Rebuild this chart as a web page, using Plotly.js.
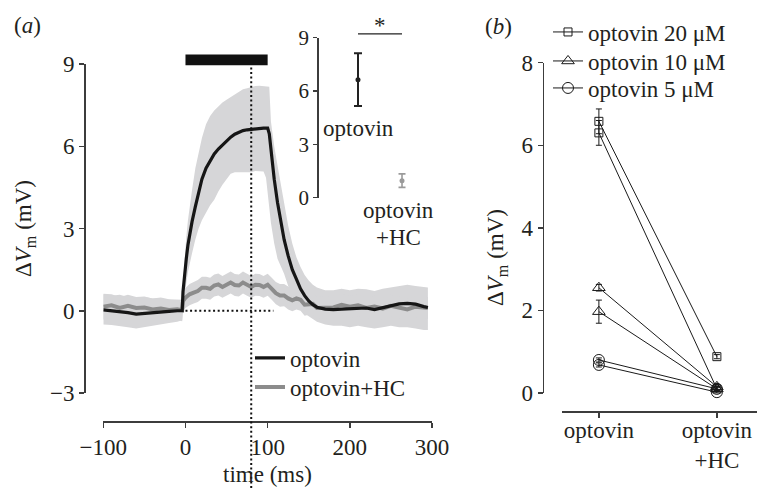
<!DOCTYPE html>
<html>
<head>
<meta charset="utf-8">
<script src="https://cdn.plot.ly/plotly-3.0.1.min.js"></script>
<style>html,body{margin:0;padding:0;background:#fff;}#chart{width:757px;height:488px;}</style>
</head>
<body>
<div id="chart"></div>
<script>
// ---------------- DATA ----------------
// Panel (a): time course (ms) of mean ΔVm (mV) with shaded ±SEM band
const tOpt = [-100,-90,-80,-70,-60,-50,-40,-30,-20,-10,-4,-3,-1,1,3,5,8,12,16,20,25,30,35,40,45,50,55,60,65,70,75,80,85,90,95,98,100,102,104,106,108,112,116,120,125,130,135,140,145,150,155,160,170,180,190,200,210,220,230,240,250,260,270,280,290,295];
const optMean = [0.03,0.0,-0.04,-0.07,-0.12,-0.09,-0.06,-0.04,-0.02,0.0,
  0.0,0.7,1.4,1.9,2.4,2.8,3.25,3.8,4.35,4.8,
  5.2,5.48,5.72,5.9,6.05,6.2,6.33,6.44,6.52,6.57,6.6,6.62,6.63,6.64,6.66,
  6.66,6.66,
  6.45,5.85,5.3,4.8,
  3.95,3.2,2.6,2.0,1.5,1.15,0.8,0.55,0.36,0.22,0.13,
  0.06,0.04,0.06,0.07,0.09,0.1,0.04,0.12,0.2,0.25,0.27,0.24,0.15,
  0.12];
const optUpper = [0.6,0.55,0.58,0.5,0.45,0.5,0.45,0.45,0.4,0.38,
  0.35,1.0,2.0,2.7,3.3,3.8,4.4,5.2,5.8,6.3,
  6.8,7.1,7.3,7.45,7.6,7.7,7.8,7.9,8.0,8.08,8.12,8.16,8.2,8.21,8.2,
  8.2,8.2,
  8.17,6.9,6.4,6.0,
  5.3,4.6,3.9,3.1,2.45,1.95,1.6,1.3,1.1,0.95,0.85,
  0.75,0.75,0.8,0.75,0.8,0.78,0.72,0.8,0.85,0.9,0.95,0.9,0.85,
  0.85];
const optLower = [-0.5,-0.52,-0.55,-0.6,-0.65,-0.6,-0.55,-0.5,-0.45,-0.4,
  -0.35,0.2,0.6,1.0,1.4,1.7,2.1,2.6,3.0,3.3,
  3.6,3.85,4.05,4.35,4.6,4.82,5.0,5.05,5.05,5.05,5.05,5.05,5.1,5.1,5.08,
  4.85,4.3,
  3.75,3.2,2.8,2.45,
  1.9,1.6,1.35,0.9,0.55,0.3,0.1,-0.1,-0.22,-0.3,-0.4,
  -0.5,-0.55,-0.55,-0.6,-0.55,-0.6,-0.65,-0.6,-0.55,-0.6,-0.6,-0.65,-0.7,
  -0.7];

const tHC = [-100,-90,-80,-70,-60,-50,-40,-30,-20,-10,-4,-3,0,5,10,15,20,25,30,35,40,45,50,55,60,65,70,75,80,85,90,95,100,105,110,115,120,125,130,135,140,145,150,155,160,170,180,190,200,210,220,230,240,250,260,270,280,290,295];
const hcMean = [0.15,0.2,0.1,0.18,0.1,0.12,0.05,0.08,0.03,0.05,
  0.02,0.35,0.48,0.6,0.66,0.72,0.84,0.84,0.8,0.92,0.96,0.87,0.95,1.03,0.94,0.92,1.03,0.95,0.87,0.95,0.94,0.87,0.95,
  0.8,0.64,0.56,0.56,0.45,0.38,0.45,0.4,0.22,0.25,0.25,0.1,
  0.1,0.12,0.22,0.15,0.2,0.1,0.15,0.08,0.18,0.12,0.05,0.15,0.12,0.1];
const hcUpper = [0.62,0.6,0.5,0.58,0.5,0.52,0.45,0.48,0.42,0.42,
  0.4,0.75,0.85,0.98,1.05,1.12,1.24,1.24,1.2,1.32,1.36,1.27,1.35,1.43,1.34,1.32,1.43,1.35,1.27,1.35,1.34,1.27,1.35,
  1.2,1.05,0.98,0.98,0.88,0.8,0.86,0.82,0.65,0.68,0.66,0.52,
  0.5,0.55,0.62,0.55,0.6,0.5,0.55,0.48,0.58,0.52,0.45,0.55,0.52,0.5];
const hcLower = [-0.32,-0.25,-0.3,-0.25,-0.32,-0.3,-0.35,-0.32,-0.38,-0.35,
  -0.38,0.0,0.1,0.2,0.26,0.32,0.44,0.44,0.4,0.52,0.56,0.47,0.55,0.63,0.54,0.52,0.63,0.55,0.47,0.55,0.54,0.47,0.55,
  0.4,0.24,0.15,0.16,0.05,-0.02,0.05,0.0,-0.18,-0.15,-0.15,-0.3,
  -0.3,-0.28,-0.18,-0.25,-0.2,-0.3,-0.25,-0.32,-0.22,-0.28,-0.35,-0.25,-0.28,-0.3];

const timeTicks = [-100,0,100,200,300];
const vmTicksA = [-3,0,3,6,9];
const STIM_START = 0, STIM_END = 100;   // light stimulus (ms)
const MARK_T = 80;                      // dotted marker time (ms)
const ZERO_LINE_END = 107;
const BAR_LOW = 8.95, BAR_HIGH = 9.35;

// Inset: mean ± SEM
const insetCats = ['optovin', 'optovin+HC'];
const insetMean = [6.64, 0.96];
const insetErr = [1.48, 0.38];
const insetTicks = [0,3,6,9];
const SIG_Y = 9.22;

// Panel (b): paired cells, optovin vs optovin+HC
const bCats = ['optovin', 'optovin<br>+HC'];
const c20Opt = [6.58, 6.30], c20HC = [0.88, 0.10], c20OptErr = [0.30, 0.30], c20HCErr = [0.05, 0.06];
const c10Opt = [2.55, 1.97], c10HC = [0.15, 0.10], c10OptErr = [0.08, 0.28], c10HCErr = [0.06, 0.06];
const c5Opt  = [0.80, 0.68], c5HC  = [0.10, 0.02], c5OptErr  = [0.05, 0.05], c5HCErr  = [0.04, 0.04];
const bLabels = ['optovin 20 μM', 'optovin 10 μM', 'optovin 5 μM'];
const vmTicksB = [0,2,4,6,8];

// ---------------- STYLE ----------------
const W = 757, H = 488;
const FONT = 'Liberation Serif, "Times New Roman", serif';
const TXT = '#231f20', AX = '#3c3c3c';
const BAND = 'rgb(214,214,216)';
const fx = px => px / W;
const fy = py => 1 - py / H;
function toPaperY(ax, v) {
  const d = ax.domain, r = ax.range;
  return d[0] + (v - r[0]) / (r[1] - r[0]) * (d[1] - d[0]);
}
const tickStyle = {showline:true, linecolor:AX, linewidth:1.5, ticks:'outside', ticklen:5, tickwidth:1.5, tickcolor:AX,
  showgrid:false, zeroline:false, tickfont:{family:FONT, size:23, color:TXT}};

const xaxis = Object.assign({}, tickStyle, {domain:[fx(103.3), fx(432)], range:[-100,300], anchor:'free', position:fy(421),
  tickvals:timeTicks});
const yaxis = Object.assign({}, tickStyle, {domain:[fy(393), fy(64)], range:[-3,9], anchor:'free', position:fx(84),
  tickvals:vmTicksA, title:{text:'Δ<i>V</i><sub>m</sub> (mV)', font:{family:FONT, size:23, color:TXT}, standoff:10}});
const xaxis2 = {domain:[fx(317.3), fx(445)], range:[-0.925,1.977], anchor:'free', position:0, visible:false};
const yaxis2 = Object.assign({}, tickStyle, {domain:[fy(197.7), fy(37.7)], range:[0,9], anchor:'free', position:fx(317.3),
  tickvals:insetTicks, ticklen:4, tickfont:{family:FONT, size:21, color:TXT}});
const xaxis3 = Object.assign({}, tickStyle, {domain:[fx(562.3), 1], range:[-0.31,1.34], anchor:'free', position:fy(411),
  tickvals:[0,1], ticktext:bCats, ticklabelstandoff:-7});
const yaxis3 = Object.assign({}, tickStyle, {domain:[fy(393), fy(62.7)], range:[0,8], anchor:'free', position:fx(542.7),
  tickvals:vmTicksB});

// ---------------- TRACES ----------------
function band(t, up, lo, ax, ay) {
  return {x: t.concat(t.slice().reverse()), y: up.concat(lo.slice().reverse()), type:'scatter', mode:'lines',
    fill:'toself', fillcolor:BAND, line:{width:0, color:BAND}, hoverinfo:'skip', showlegend:false, xaxis:ax, yaxis:ay};
}
const traces = [
  band(tOpt, optUpper, optLower, 'x', 'y'),
  band(tHC, hcUpper, hcLower, 'x', 'y'),
  {x:tHC, y:hcMean, type:'scatter', mode:'lines', name:'optovin+HC', line:{color:'#8c8c8c', width:4},
   legend:'legend2', xaxis:'x', yaxis:'y'},
  {x:tOpt, y:optMean, type:'scatter', mode:'lines', name:'optovin', line:{color:'#161616', width:3.2},
   legend:'legend', xaxis:'x', yaxis:'y'},
  {x:[0], y:[insetMean[0]], error_y:{type:'data', array:[insetErr[0]], color:'#222', thickness:2, width:4},
   type:'scatter', mode:'markers', marker:{color:'#222', size:5}, showlegend:false, name:insetCats[0], xaxis:'x2', yaxis:'y2'},
  {x:[1], y:[insetMean[1]], error_y:{type:'data', array:[insetErr[1]], color:'#9a9a9a', thickness:1.6, width:3.5},
   type:'scatter', mode:'markers', marker:{color:'#9a9a9a', size:5}, showlegend:false, name:insetCats[1], xaxis:'x2', yaxis:'y2'}
];
function pairTrace(opt, hc, optErr, hcErr, name, symbol, size, legendId) {
  const x = [], y = [], e = [];
  for (let i = 0; i < opt.length; i++) {
    if (i > 0) { x.push(null); y.push(null); e.push(null); }
    x.push(0, 1); y.push(opt[i], hc[i]); e.push(optErr[i], hcErr[i]);
  }
  return {x, y, type:'scatter', mode:'lines+markers', name, cliponaxis:false,
    line:{color:'#1a1a1a', width:1}, marker:{symbol, size, color:'#1a1a1a', line:{width:1, color:'#1a1a1a'}},
    error_y:{type:'data', array:e, color:'#1a1a1a', thickness:1, width:3},
    legend:legendId, xaxis:'x3', yaxis:'y3'};
}
traces.push(pairTrace(c20Opt, c20HC, c20OptErr, c20HCErr, bLabels[0], 'square-open', 8, 'legend3'));
traces.push(pairTrace(c10Opt, c10HC, c10OptErr, c10HCErr, bLabels[1], 'triangle-up-open', 11, 'legend4'));
traces.push(pairTrace(c5Opt, c5HC, c5OptErr, c5HCErr, bLabels[2], 'circle-open', 11, 'legend5'));

// ---------------- SHAPES / ANNOTATIONS ----------------
const dotted = {color:'#111', width:2, dash:'2px,2.6px'};
const shapes = [
  {type:'rect', xref:'x', yref:'paper', x0:STIM_START, x1:STIM_END,
   y0:toPaperY(yaxis, BAR_LOW), y1:toPaperY(yaxis, BAR_HIGH), fillcolor:'#111', line:{width:0}},
  {type:'line', xref:'x', yref:'paper', x0:MARK_T, x1:MARK_T, y0:0, y1:toPaperY(yaxis, BAR_LOW), line:dotted},
  {type:'line', xref:'x', yref:'y', x0:STIM_START, x1:ZERO_LINE_END, y0:0, y1:0, line:dotted},
  {type:'line', xref:'x2', yref:'paper', x0:0, x1:1, y0:toPaperY(yaxis2, SIG_Y), y1:toPaperY(yaxis2, SIG_Y),
   line:{color:'#222', width:1.3}}
];
const aFont = {family:FONT, size:23, color:TXT};
const annotations = [
  {text:'(<i>a</i>)', xref:'paper', yref:'paper', x:fx(12), y:fy(25), xanchor:'left', yanchor:'middle', showarrow:false, font:aFont},
  {text:'(<i>b</i>)', xref:'paper', yref:'paper', x:fx(483), y:fy(27), xanchor:'left', yanchor:'middle', showarrow:false, font:aFont},
  {text:'time (ms)', xref:'x', yref:'paper', x:(timeTicks[0] + timeTicks[timeTicks.length-1]) / 2, y:0, xanchor:'center', yanchor:'bottom', showarrow:false, font:aFont, borderpad:0},
  {text:'*', xref:'x2', yref:'paper', x:0.5, y:toPaperY(yaxis2, SIG_Y), xanchor:'center', yanchor:'bottom', yshift:-6, showarrow:false, font:aFont},
  {text:insetCats[0], xref:'x2', yref:'paper', x:0, y:fy(128), xanchor:'center', yanchor:'middle', showarrow:false, font:aFont},
  {text:'optovin', xref:'x2', yref:'paper', x:0.91, y:fy(211), xanchor:'center', yanchor:'middle', showarrow:false, font:aFont},
  {text:'+HC', xref:'x2', yref:'paper', x:0.91, y:fy(238), xanchor:'center', yanchor:'middle', showarrow:false, font:aFont},
  {text:'Δ<i>V</i><sub>m</sub> (mV)', xref:'paper', yref:'paper', x:fx(497), y:fy(258), xanchor:'center', yanchor:'middle',
   textangle:-90, showarrow:false, font:aFont}
];

function oneLegend(xpx, ypx, size) {
  return {x:fx(xpx), y:fy(ypx), xanchor:'left', yanchor:'middle', bgcolor:'rgba(0,0,0,0)', borderwidth:0,
    font:{family:FONT, size:size, color:TXT}, tracegroupgap:0, itemwidth:30};
}
const layout = {
  width:W, height:H, autosize:false, margin:{l:0, r:0, t:0, b:0},
  paper_bgcolor:'#fff', plot_bgcolor:'rgba(0,0,0,0)',
  font:{family:FONT, size:23, color:TXT},
  xaxis, yaxis, xaxis2, yaxis2, xaxis3, yaxis3,
  shapes, annotations,
  legend:oneLegend(250, 358, 23),
  legend2:oneLegend(250, 387, 23),
  legend3:oneLegend(548, 32, 23),
  legend4:oneLegend(548, 61, 23),
  legend5:oneLegend(548, 88, 23),
  hovermode:false
};
Plotly.newPlot('chart', traces, layout, {staticPlot:true, displayModeBar:false});
</script>
</body>
</html>
